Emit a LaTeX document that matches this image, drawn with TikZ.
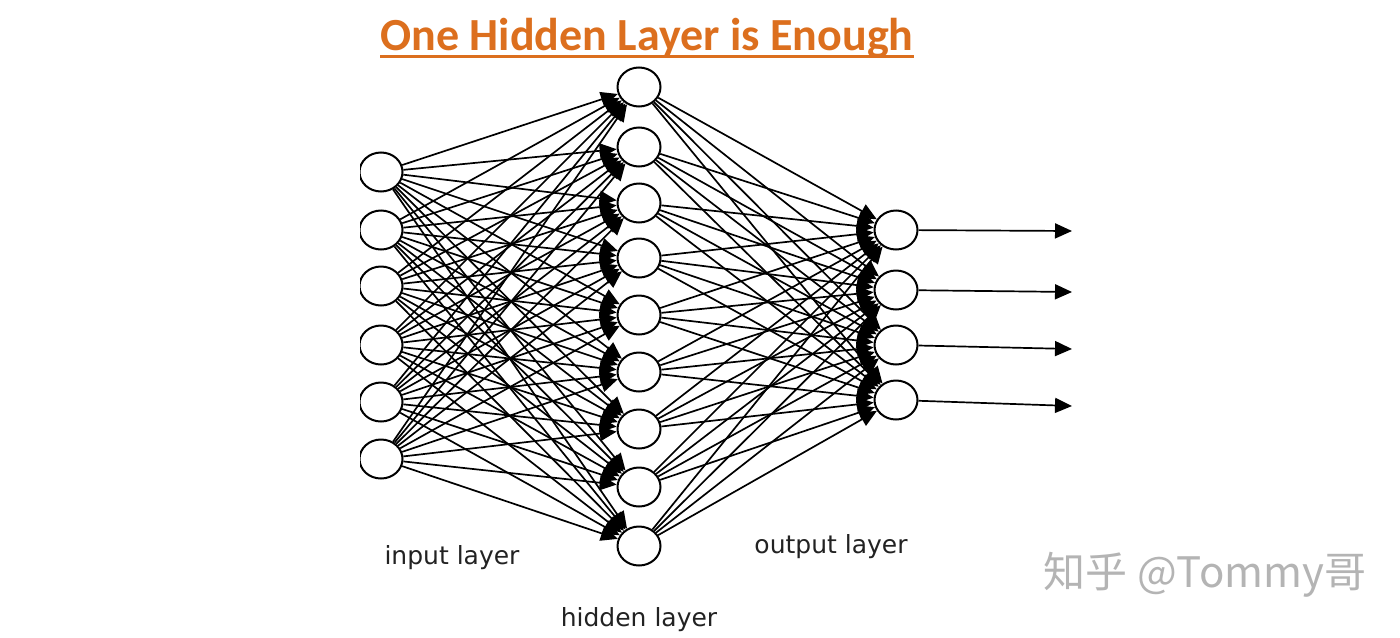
\documentclass[tikz,border=0pt]{standalone}
\usepackage{fontspec}
\setmainfont{DejaVu Sans}
\newfontfamily\titlefont{Carlito}
\newfontfamily\cjkfont{Noto Sans CJK SC}
\usetikzlibrary{arrows.meta, shapes.geometric}
\definecolor{TitleOrange}{HTML}{DC6F1E}
\definecolor{MarkGray}{HTML}{B4B4B4}
\definecolor{LabelInk}{HTML}{222222}

\begin{document}
\begin{tikzpicture}[x=0.5pt, y=-0.5pt,
    neuron/.style={draw, ellipse, line width=1pt, fill=white,
      minimum width=21.5pt, minimum height=19.5pt, inner sep=0pt},
    link/.style={line width=0.85pt, -{Triangle[length=8.5pt, width=7.5pt]}},
    every node/.style={font=\fontsize{12.5}{14}\selectfont, text=LabelInk}]
  \useasboundingbox (0,0) rectangle (1400,637);
  % Title, underlined
  \node[font=\titlefont\bfseries\fontsize{23}{26}\selectfont, text=TitleOrange,
    inner sep=0pt, anchor=base] (title) at (647,50) {One Hidden Layer is Enough};
  \draw[TitleOrange, line width=1.5pt]
    ([yshift=1pt]title.south west) -- ([yshift=1pt]title.south east);
  % Input layer (cut off at the left edge)
  \begin{scope}
    \clip (360,0) rectangle (1400,637);
    \foreach \i/\y in {1/172, 2/230, 3/286, 4/345, 5/402, 6/459}
      \node[neuron] (i\i) at (381,\y) {};
  \end{scope}
  % Hidden layer
  \foreach \j/\y in {1/87, 2/147, 3/203, 4/258, 5/315, 6/372, 7/429, 8/487, 9/546}
    \node[neuron] (h\j) at (639,\y) {};
  % Output layer
  \foreach \k/\y in {1/230, 2/290, 3/345, 4/400}
    \node[neuron] (o\k) at (896,\y) {};
  % Full connections
  \foreach \i in {1,...,6}
    \foreach \j in {1,...,9}
      \draw[link] (i\i) -- (h\j);
  \foreach \j in {1,...,9}
    \foreach \k in {1,...,4}
      \draw[link] (h\j) -- (o\k);
  % Outputs
  \foreach \k/\y in {1/231, 2/292, 3/349, 4/406} {
    \coordinate (y\k) at (1072,\y);
    \draw[link] (o\k) -- (y\k);
  }
  % Layer labels
  \node (inlabel) at (452,558) {input layer};
  \node (hidlabel) at (639,620) {hidden layer};
  \node (outlabel) at (831,547) {output layer};
  % Watermark
  \node[font=\cjkfont\fontsize{21}{24}\selectfont, text=MarkGray] (mark)
    at (1205,575) {知乎 @Tommy哥};
\end{tikzpicture}
\end{document}
